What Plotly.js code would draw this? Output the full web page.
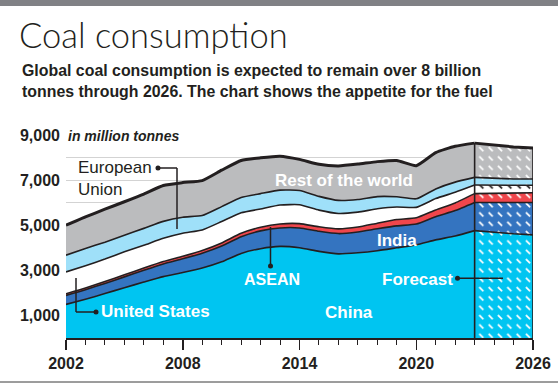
<!DOCTYPE html>
<html>
<head>
<meta charset="utf-8">
<script src="https://cdn.plot.ly/plotly-3.0.1.min.js"></script>
<style>
html,body{margin:0;padding:0;background:#fff;}
#chart{width:558px;height:383px;}
</style>
</head>
<body>
<div id="chart"></div>
<script>
// ---- Data (million tonnes) ----
const years = [2002,2003,2004,2005,2006,2007,2008,2009,2010,2011,2012,2013,2014,2015,2016,2017,2018,2019,2020,2021,2022,2023,2024,2025,2026];
const china = [1490,1720,1970,2230,2480,2720,2900,3100,3380,3750,3960,4060,4000,3840,3730,3780,3870,4000,4130,4350,4520,4760,4680,4620,4570];
const india = [400,420,450,480,520,560,610,660,700,740,790,820,880,890,900,920,970,970,920,1030,1130,1250,1320,1380,1440];
const asean = [70,75,80,90,100,110,115,120,135,150,160,175,190,200,210,220,250,280,280,300,340,390,410,420,430];
const us = [970,990,1000,1020,1010,1030,1020,910,950,910,810,840,840,740,680,660,640,560,460,500,470,380,360,340,330];
const eu = [740,760,750,740,750,750,710,640,660,680,680,660,630,610,580,560,540,450,380,430,450,340,300,290,280];
const rest = [1330,1405,1460,1480,1520,1590,1535,1550,1615,1640,1590,1505,1380,1420,1530,1570,1550,1610,1470,1610,1590,1520,1470,1420,1370];
const forecastStart = 2023;
const yTickVals = [1000,2000,3000,4000,5000,6000,7000,8000,9000];
const yTickText = ['1,000','','3,000','','5,000','','7,000','','9,000'];
const xTickVals = [2002,2008,2014,2020,2026];

// ---- Styling ----
const INK = '#231f20';
const series = [
  {name:'China', y:china, color:'#00c5f1', fg:'#ffffff'},
  {name:'India', y:india, color:'#3474c0', fg:'#ffffff'},
  {name:'ASEAN', y:asean, color:'#f0464c', fg:'#ffffff'},
  {name:'United States', y:us, color:'#ffffff', fg:INK},
  {name:'European Union', y:eu, color:'#9fe0f9', fg:'#ffffff'},
  {name:'Rest of the world', y:rest, color:'#bbbcbe', fg:'#ffffff'}
];

const W = 558, H = 383;
const M = {l:66, r:25, t:135, b:45};
const PW = W - M.l - M.r, PH = H - M.t - M.b;
const xp = px => (px - M.l) / PW;
const yp = py => (H - M.b - py) / PH;

const fi = years.indexOf(forecastStart);
const traces = [];
series.forEach((s, i) => {
  const top = i === series.length - 1;
  traces.push({
    type:'scatter', mode:'lines', stackgroup:'actual',
    x: years.slice(0, fi + 1), y: s.y.slice(0, fi + 1),
    fillcolor: s.color,
    line:{color:INK, width: top ? 3 : 1.6, shape:'spline', smoothing:0.5},
    hoverinfo:'skip', showlegend:false, name:s.name
  });
});
series.forEach((s, i) => {
  const top = i === series.length - 1;
  traces.push({
    type:'scatter', mode:'lines', stackgroup:'forecast',
    x: years.slice(fi), y: s.y.slice(fi),
    fillcolor: s.color,
    fillpattern:{shape:'\\', bgcolor:s.color, fgcolor:s.fg, size:6.6, solidity:0.3, fillmode:'replace'},
    line:{color:INK, width: top ? 3 : 1.6},
    hoverinfo:'skip', showlegend:false, name:s.name + ' forecast'
  });
});

const totalAt = idx => series.reduce((a, s) => a + s.y[idx], 0);
const lastIdx = years.length - 1;

const LB = 'Liberation Sans, Arial, sans-serif';
const NARROW = 'Liberation Sans Narrow, Arial Narrow, Liberation Sans, sans-serif';

function label(text, cx, cy, opts) {
  return Object.assign({
    text, xref:'paper', yref:'paper', x:xp(cx), y:yp(cy),
    xanchor:'center', yanchor:'middle', showarrow:false,
    font:{family:LB, size:17, color:'#ffffff', weight:700}
  }, opts || {});
}

const annotations = [
  label('Coal consumption', 17, 35, {xanchor:'left', font:{family:'Lato, Liberation Sans, sans-serif', size:34.5, color:INK, weight:300}}),
  label('Global coal consumption is expected to remain over 8 billion', 20, 70, {xanchor:'left', font:{family:NARROW, size:15.9, color:INK, weight:700}}),
  label('tonnes through 2026. The chart shows the appetite for the fuel', 20, 92, {xanchor:'left', font:{family:NARROW, size:15.9, color:INK, weight:700}}),
  label('in million tonnes', 66, 136, {xanchor:'left', bgcolor:'#ffffff', font:{family:LB, size:14, color:INK, weight:700, style:'italic'}}),
  label('European<br>Union', 76, 178.5, {xanchor:'left', align:'left', font:{family:LB, size:17, color:INK, weight:400}}),
  label('United States', 99, 311, {xanchor:'left'}),
  label('ASEAN', 271.5, 279.5, {font:{family:LB, size:16, color:'#ffffff', weight:700}}),
  label('Rest of the world', 344, 180.5),
  label('India', 397, 240),
  label('China', 349, 312),
  label('Forecast', 417.5, 279)
];

function pline(x0, y0, x1, y1) {
  return {type:'line', xref:'paper', yref:'paper', x0:xp(x0), y0:yp(y0), x1:xp(x1), y1:yp(y1), line:{color:INK, width:1.5}};
}
function dot(cx, cy) {
  return {type:'circle', xref:'paper', yref:'paper', xsizemode:'pixel', ysizemode:'pixel',
    xanchor:xp(cx), yanchor:yp(cy), x0:-2.5, x1:2.5, y0:-2.5, y1:2.5,
    fillcolor:INK, line:{width:0}};
}

const shapes = [
  {type:'rect', xref:'paper', yref:'paper', x0:xp(0), x1:xp(W), y0:yp(0), y1:yp(6), fillcolor:'#808185', line:{width:0}},
  {type:'line', xref:'paper', yref:'paper', x0:xp(0), x1:xp(W), y0:yp(382), y1:yp(382), line:{color:'#3a3a3a', width:1}},
  {type:'line', xref:'x', yref:'y', x0:years[fi], x1:years[fi], y0:0, y1:totalAt(fi), line:{color:INK, width:1.6}},
  {type:'line', xref:'x', yref:'y', x0:years[lastIdx], x1:years[lastIdx], y0:0, y1:totalAt(lastIdx), line:{color:INK, width:1.6}},
  // European Union leader
  pline(158, 168, 177, 168), pline(177, 168, 177, 229), dot(158, 168),
  // United States leader
  pline(76, 278, 76, 312), pline(76, 312, 96, 312), dot(96, 312),
  // ASEAN leader
  pline(270.5, 227, 270.5, 266), dot(270.5, 266),
  // Forecast leader
  pline(457.5, 278.3, 503, 278.3), dot(457.5, 278.3)
];

const layout = {
  width:W, height:H, margin:M,
  paper_bgcolor:'#ffffff', plot_bgcolor:'#ffffff',
  showlegend:false,
  xaxis:{
    range:[years[0], years[lastIdx]], tickvals:xTickVals, ticktext:xTickVals.map(String),
    ticks:'outside', ticklen:10, tickwidth:1.5, tickcolor:INK,
    minor:{dtick:1, tick0:years[0], ticks:'outside', ticklen:5, tickwidth:1, tickcolor:INK, showgrid:false},
    showline:true, linecolor:INK, linewidth:2, showgrid:false, zeroline:false,
    tickfont:{family:LB, size:16, color:INK, weight:700}, fixedrange:true
  },
  yaxis:{
    range:[0, 9000], tickvals:yTickVals, ticktext:yTickText,
    showgrid:true, gridcolor:'#d3d3d3', gridwidth:1, zeroline:false, showline:false,
    ticks:'', ticklabelstandoff:5,
    tickfont:{family:LB, size:16, color:INK, weight:700}, fixedrange:true
  },
  annotations, shapes
};

Plotly.newPlot('chart', traces, layout, {staticPlot:true, displayModeBar:false}).then(gd => {
  // turn the continuous hatch lines into short dashes like the original forecast texture
  gd.querySelectorAll('pattern').forEach(p => {
    const s = parseFloat(p.getAttribute('width')) || 6.6;
    p.querySelectorAll('path').forEach(path => {
      path.setAttribute('d', 'M' + (0.28 * s) + ',' + (0.3 * s) + 'L' + (0.72 * s) + ',' + (0.74 * s));
      path.setAttribute('stroke-width', '1.7');
      path.style.strokeWidth = '1.7px';
      path.style.strokeLinecap = 'butt';
    });
  });
});
</script>
</body>
</html>
